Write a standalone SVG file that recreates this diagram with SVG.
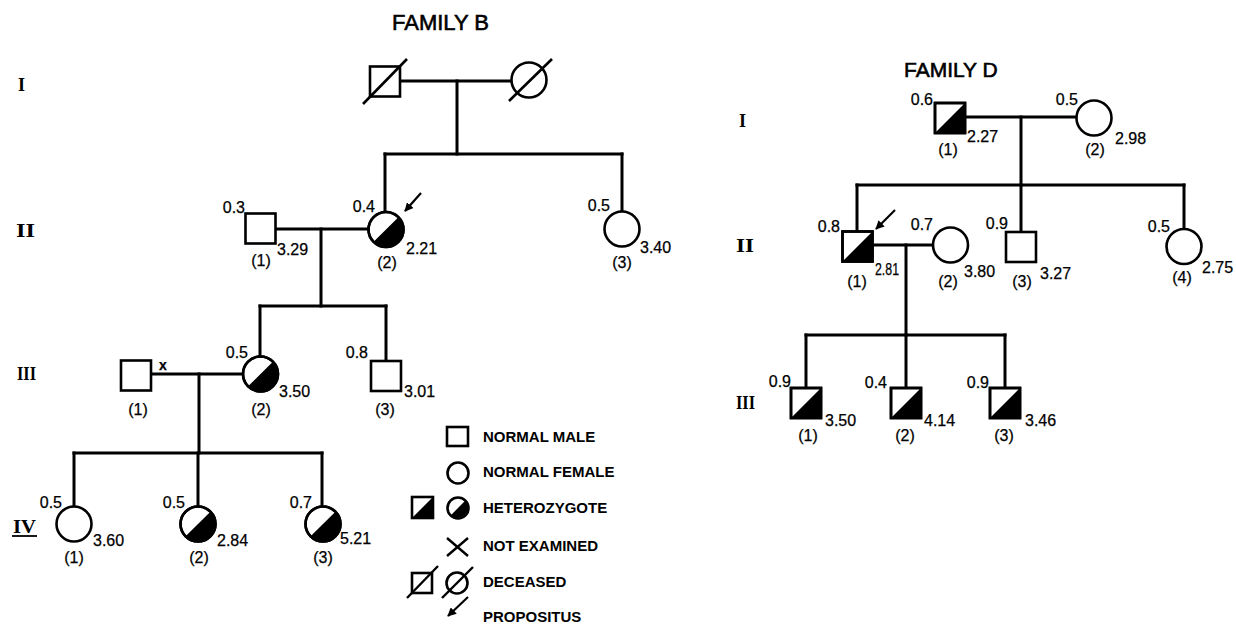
<svg xmlns="http://www.w3.org/2000/svg" xmlns:xlink="http://www.w3.org/1999/xlink" width="1236" height="628" viewBox="0 0 1236 628">
<style>
.bg{fill:#fff}
.ln{stroke:#000;stroke-width:3;fill:none;stroke-linecap:square}
.sh{stroke:#000;stroke-width:2.6;fill:#fff}
.blk{fill:#000;stroke:none}
.thin{stroke:#000;stroke-width:2.2;fill:none}
.t{font-family:"Liberation Sans",Arial,sans-serif;font-size:16px;fill:#000;stroke:#000;stroke-width:0.25}
.e{text-anchor:end}
.m{text-anchor:middle}
.ttl{font-family:"Liberation Sans",Arial,sans-serif;font-size:22px;fill:#000;stroke:#000;stroke-width:0.6}
.gen{font-family:"Liberation Serif","Times New Roman",serif;font-size:18px;font-weight:bold;fill:#000}
.lg{font-family:"Liberation Sans",Arial,sans-serif;font-size:15px;font-weight:bold;fill:#000}
</style>
<defs>
<marker id="ah" viewBox="0 0 10 10" refX="9" refY="5" markerWidth="4" markerHeight="4" orient="auto" markerUnits="strokeWidth">
<path d="M0,0 L10,5 L0,10 Z" fill="#000"/>
</marker>
<g id="male"><rect x="-15" y="-15" width="30" height="30" class="sh"/></g>
<g id="female"><circle r="17.5" class="sh"/></g>
<g id="hetm"><rect x="-15" y="-15" width="30" height="30" class="sh"/><path d="M-15,15 L15,-15 L15,15 Z" class="blk"/><rect x="-15" y="-15" width="30" height="30" class="sh" style="fill:none"/></g>
<g id="hetf"><circle r="17.5" class="sh"/><path d="M-12.37,12.37 A17.5,17.5 0 0 0 12.37,-12.37 Z" class="blk"/><circle r="17.5" class="sh" style="fill:none"/></g>
</defs>
<rect class="bg" x="0" y="0" width="1236" height="628"/>

<text class="ttl" x="392" y="30">FAMILY B</text>
<text class="ttl" x="904" y="77" style="font-size:21px">FAMILY D</text>

<g id="gen-labels">
<text class="gen" x="18" y="91">I</text>
<text class="gen" x="16" y="237" textLength="19" lengthAdjust="spacingAndGlyphs">II</text>
<text class="gen" x="17" y="380" textLength="19" lengthAdjust="spacingAndGlyphs">III</text>
<text class="gen" x="13" y="533" textLength="23" lengthAdjust="spacingAndGlyphs">IV</text>
<line x1="12" y1="536" x2="37" y2="536" stroke="#000" stroke-width="1.8"/>
<text class="gen" x="739" y="127">I</text>
<text class="gen" x="736" y="252" textLength="18" lengthAdjust="spacingAndGlyphs">II</text>
<text class="gen" x="736" y="409" textLength="19" lengthAdjust="spacingAndGlyphs">III</text>
</g>

<g id="connectors">
<!-- Family B -->
<line class="ln" x1="400" y1="81" x2="512" y2="81"/>
<line class="ln" x1="457" y1="81" x2="457" y2="154"/>
<line class="ln" x1="385" y1="154" x2="622" y2="154"/>
<line class="ln" x1="385" y1="154" x2="385" y2="212"/>
<line class="ln" x1="622" y1="154" x2="622" y2="211"/>
<line class="ln" x1="275" y1="229" x2="368" y2="229"/>
<line class="ln" x1="321" y1="229" x2="321" y2="306"/>
<line class="ln" x1="260" y1="306" x2="386" y2="306"/>
<line class="ln" x1="260" y1="306" x2="260" y2="356"/>
<line class="ln" x1="386" y1="306" x2="386" y2="361"/>
<line class="ln" x1="151" y1="374" x2="243" y2="374"/>
<line class="ln" x1="199" y1="374" x2="199" y2="453"/>
<line class="ln" x1="74" y1="453" x2="322" y2="453"/>
<line class="ln" x1="74" y1="453" x2="74" y2="506"/>
<line class="ln" x1="198" y1="453" x2="198" y2="506"/>
<line class="ln" x1="322" y1="453" x2="322" y2="506"/>
<line class="thin" x1="421" y1="193" x2="405" y2="211" marker-end="url(#ah)"/>
<!-- Family D -->
<line class="ln" x1="965" y1="117" x2="1077" y2="117"/>
<line class="ln" x1="1021" y1="117" x2="1021" y2="185"/>
<line class="ln" x1="857" y1="185" x2="1184" y2="185"/>
<line class="ln" x1="857" y1="185" x2="857" y2="231"/>
<line class="ln" x1="1021" y1="185" x2="1021" y2="232"/>
<line class="ln" x1="1184" y1="185" x2="1184" y2="229"/>
<line class="ln" x1="873" y1="245" x2="933" y2="245"/>
<line class="ln" x1="906" y1="245" x2="906" y2="335"/>
<line class="ln" x1="806" y1="335" x2="1005" y2="335"/>
<line class="ln" x1="806" y1="335" x2="806" y2="388"/>
<line class="ln" x1="906" y1="335" x2="906" y2="388"/>
<line class="ln" x1="1005" y1="335" x2="1005" y2="388"/>
<line class="thin" x1="895" y1="210" x2="876" y2="229" marker-end="url(#ah)"/>
</g>

<!-- Family B nodes -->
<g id="B-I-1"><use href="#male" x="385" y="81.5"/><line x1="363" y1="104" x2="407" y2="59" stroke="#000" stroke-width="2.6"/></g>
<g id="B-I-2"><use href="#female" x="529" y="80"/><line x1="509" y1="101" x2="552" y2="59" stroke="#000" stroke-width="2.6"/></g>
<g id="B-II-1"><use href="#male" x="260.5" y="228.5"/>
<text class="t e" x="245" y="213">0.3</text><text class="t m" x="261" y="266">(1)</text><text class="t" x="277" y="255">3.29</text></g>
<g id="B-II-2"><use href="#hetf" x="386" y="229.5"/>
<text class="t e" x="375" y="212">0.4</text><text class="t m" x="387" y="268">(2)</text><text class="t" x="406" y="254">2.21</text></g>
<g id="B-II-3"><use href="#female" x="622" y="229"/>
<text class="t e" x="610" y="211">0.5</text><text class="t m" x="622" y="268">(3)</text><text class="t" x="640" y="253">3.40</text></g>
<g id="B-III-1"><use href="#male" x="136" y="375.5"/>
<text class="t m" x="138" y="415">(1)</text><text class="t m" x="163" y="370" style="font-weight:bold;font-size:14px">x</text></g>
<g id="B-III-2"><use href="#hetf" x="260.5" y="374"/>
<text class="t e" x="248" y="358">0.5</text><text class="t m" x="261" y="415">(2)</text><text class="t" x="279" y="397">3.50</text></g>
<g id="B-III-3"><use href="#male" x="386" y="376"/>
<text class="t e" x="368" y="358">0.8</text><text class="t m" x="385" y="415">(3)</text><text class="t" x="404" y="397">3.01</text></g>
<g id="B-IV-1"><use href="#female" x="74" y="524"/>
<text class="t e" x="62" y="508">0.5</text><text class="t m" x="74" y="563">(1)</text><text class="t" x="93" y="546">3.60</text></g>
<g id="B-IV-2"><use href="#hetf" x="198" y="524"/>
<text class="t e" x="185" y="508">0.5</text><text class="t m" x="199" y="563">(2)</text><text class="t" x="217" y="546">2.84</text></g>
<g id="B-IV-3"><use href="#hetf" x="323" y="524"/>
<text class="t e" x="312" y="508">0.7</text><text class="t m" x="323" y="563">(3)</text><text class="t" x="340" y="544">5.21</text></g>

<!-- Family D nodes -->
<g id="D-I-1"><use href="#hetm" x="950" y="118"/>
<text class="t e" x="933" y="105">0.6</text><text class="t m" x="948" y="155">(1)</text><text class="t" x="967" y="142">2.27</text></g>
<g id="D-I-2"><use href="#female" x="1094" y="118"/>
<text class="t e" x="1078" y="105">0.5</text><text class="t m" x="1095" y="155">(2)</text><text class="t" x="1115" y="144">2.98</text></g>
<g id="D-II-1"><use href="#hetm" x="857.5" y="246.5"/>
<text class="t e" x="840" y="232">0.8</text><text class="t m" x="857" y="287">(1)</text><text class="t" x="875" y="275" textLength="24" lengthAdjust="spacingAndGlyphs">2.81</text></g>
<g id="D-II-2"><use href="#female" x="950.5" y="245"/>
<text class="t e" x="933" y="230">0.7</text><text class="t m" x="948" y="287">(2)</text><text class="t" x="964" y="277">3.80</text></g>
<g id="D-II-3"><use href="#male" x="1021" y="247"/>
<text class="t e" x="1008" y="229">0.9</text><text class="t m" x="1022" y="287">(3)</text><text class="t" x="1040" y="279">3.27</text></g>
<g id="D-II-4"><use href="#female" x="1184" y="246.5"/>
<text class="t e" x="1170" y="232">0.5</text><text class="t m" x="1182" y="283">(4)</text><text class="t" x="1202" y="273">2.75</text></g>
<g id="D-III-1"><use href="#hetm" x="806" y="403"/>
<text class="t e" x="791" y="387">0.9</text><text class="t m" x="808" y="441">(1)</text><text class="t" x="825" y="426">3.50</text></g>
<g id="D-III-2"><use href="#hetm" x="906" y="403"/>
<text class="t e" x="887" y="388">0.4</text><text class="t m" x="905" y="441">(2)</text><text class="t" x="924" y="426">4.14</text></g>
<g id="D-III-3"><use href="#hetm" x="1005" y="403"/>
<text class="t e" x="989" y="388">0.9</text><text class="t m" x="1004" y="441">(3)</text><text class="t" x="1025" y="426">3.46</text></g>

<!-- Legend -->
<g id="legend">
<rect x="447" y="427" width="21" height="19" class="sh"/>
<text class="lg" x="483" y="442">NORMAL MALE</text>
<circle cx="458" cy="473" r="10.5" class="sh"/>
<text class="lg" x="483" y="477">NORMAL FEMALE</text>
<rect x="412" y="497" width="21" height="21" class="sh"/>
<path d="M412,518 L433,497 L433,518 Z" class="blk"/>
<circle cx="458" cy="508" r="10.5" class="sh"/>
<path d="M450.6,515.4 A10.5,10.5 0 0 0 465.4,500.6 Z" class="blk"/>
<text class="lg" x="483" y="513">HETEROZYGOTE</text>
<line x1="447" y1="538" x2="468" y2="556" stroke="#000" stroke-width="2.4"/>
<line x1="447" y1="556" x2="468" y2="538" stroke="#000" stroke-width="2.4"/>
<text class="lg" x="483" y="551">NOT EXAMINED</text>
<rect x="412" y="573" width="20" height="20" class="sh"/>
<line x1="407" y1="598" x2="438" y2="566" stroke="#000" stroke-width="2.4"/>
<circle cx="457" cy="583" r="10.5" class="sh"/>
<line x1="442" y1="598" x2="473" y2="567" stroke="#000" stroke-width="2.4"/>
<text class="lg" x="483" y="587">DECEASED</text>
<line class="thin" x1="468" y1="597" x2="448" y2="616" marker-end="url(#ah)"/>
<text class="lg" x="483" y="622">PROPOSITUS</text>
</g>
</svg>
